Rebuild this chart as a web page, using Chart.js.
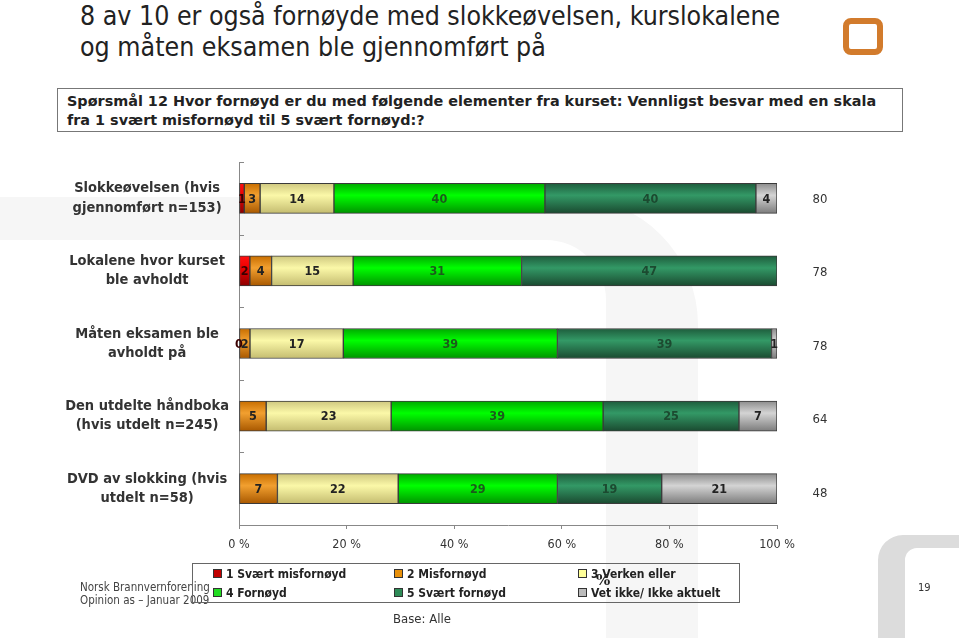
<!DOCTYPE html>
<html>
<head>
<meta charset="utf-8">
<script src="https://cdn.jsdelivr.net/npm/chart.js@4.4.1/dist/chart.umd.min.js"></script>
<style>
body { margin: 0; background: #fff; }
#page { position: relative; width: 959px; height: 638px; overflow: hidden;
        font-family: "DejaVu Sans Condensed", "DejaVu Sans", sans-serif; color: #333; }
#bg, #chart { position: absolute; left: 0; top: 0; }
.title { position: absolute; left: 80px; top: 0px; font-size: 26.5px; line-height: 31px; color: #222; white-space: nowrap; }
.logo { position: absolute; left: 843px; top: 18px; width: 40px; height: 37px; box-sizing: border-box;
        border: 6px solid #d27b2c; border-radius: 8px; }
.question { position: absolute; left: 57px; top: 88px; width: 846px; height: 44px; box-sizing: border-box;
            border: 1px solid #777; padding: 3px 0 0 9px; font-family: "DejaVu Sans", sans-serif;
            font-weight: bold; font-size: 14.4px; line-height: 19px; color: #222; white-space: nowrap; }
.legend { position: absolute; left: 192px; top: 563px; width: 548px; height: 40px; box-sizing: border-box;
          border: 1.5px solid #666; }
.legend .item { position: absolute; font-weight: bold; font-size: 12px; line-height: 14px; color: #222; white-space: nowrap; }
.legend .box { display: inline-block; width: 7px; height: 7px; border: 1px solid #333; margin-right: 4px; vertical-align: 0px; }
.foot { position: absolute; left: 80px; top: 581px; font-size: 11.5px; line-height: 13px; color: #444; }
.base { position: absolute; left: 393px; top: 611px; font-size: 13px; color: #333; }
.pnum { position: absolute; left: 918px; top: 581px; font-size: 11px; color: #333; }
.pct { position: absolute; left: 596px; top: 571px; font-size: 15px; font-weight: bold; font-family: "DejaVu Serif", serif; color: #222; }
</style>
</head>
<body>
<div id="page">
  <svg id="bg" width="959" height="638">
    <path d="M0,197 H570 A128,128 0 0 1 698,325 V638 H606 V300 A60,60 0 0 0 546,240 H0 Z" fill="#f6f6f6"/>
    <path d="M959,535 H903 A25,25 0 0 0 878,560 V638 H905 V560 A12,12 0 0 1 917,548 H959 Z" fill="#dcdcdc"/>
  </svg>
  <div class="title">8 av 10 er også fornøyde med slokkeøvelsen, kurslokalene<br>og måten eksamen ble gjennomført på</div>
  <div class="logo"></div>
  <div class="question">Spørsmål 12 Hvor fornøyd er du med følgende elementer fra kurset: Vennligst besvar med en skala<br>fra 1 svært misfornøyd til 5 svært fornøyd:?</div>
  <canvas id="chart" width="959" height="638"></canvas>
  <div class="foot">Norsk Brannvernforening<br>Opinion as – Januar 2009</div>
  <div class="legend" id="legend"></div>
  <div class="pct">%</div>
  <div class="base">Base: Alle</div>
  <div class="pnum">19</div>
</div>
<script>
const categories = [
    ['Slokkeøvelsen (hvis', 'gjennomført n=153)'],
    ['Lokalene hvor kurset', 'ble avholdt'],
    ['Måten eksamen ble', 'avholdt på'],
    ['Den utdelte håndboka', '(hvis utdelt n=245)'],
    ['DVD av slokking (hvis', 'utdelt n=58)']
];
const seriesNames = ['1 Svært misfornøyd', '2 Misfornøyd', '3 Verken eller', '4 Fornøyd', '5 Svært fornøyd', 'Vet ikke/ Ikke aktuelt'];
const svaertMisfornoyd = [1, 2, 0, null, null];
const misfornoyd = [3, 4, 2, 5, 7];
const verkenEller = [14, 15, 17, 23, 22];
const fornoyd = [40, 31, 39, 39, 29];
const svaertFornoyd = [40, 47, 39, 25, 19];
const vetIkke = [4, null, 1, 7, 21];
const topTwo = [80, 78, 78, 64, 48];
const xTicks = [0, 20, 40, 60, 80, 100];

const seriesValues = [svaertMisfornoyd, misfornoyd, verkenEller, fornoyd, svaertFornoyd, vetIkke];
const legendColors = ['#c00000', '#e8900a', '#ffff99', '#22dd22', '#2e8b57', '#bbbbbb'];
const gradStops = [
    ['#ff1010', '#ee0000', '#8b0000'],
    ['#c86e00', '#f2a030', '#a85800'],
    ['#cfc880', '#fbf8a8', '#c4bc70'],
    ['#00a800', '#00ff00', '#009400'],
    ['#1e5c3c', '#339966', '#1a4a30'],
    ['#8c8c8c', '#d4d4d4', '#7c7c7c']
];
const labelColors = ['#3a0000', '#222', '#222', '#1b5a1b', '#1c4a30', '#222'];
const FONT = '"DejaVu Sans Condensed", "DejaVu Sans", sans-serif';

// the bars are stacked to 100 %, so each row is scaled by its own total
const rowTotals = categories.map((c, j) => seriesValues.reduce((s, arr) => s + (arr[j] || 0), 0));

// legend
const legend = document.getElementById('legend');
seriesNames.forEach((name, i) => {
    const item = document.createElement('div');
    item.className = 'item';
    item.style.left = [20, 201, 385][i % 3] + 'px';
    item.style.top = (i < 3 ? 3 : 22) + 'px';
    item.innerHTML = '<span class="box" style="background:' + legendColors[i] + '"></span>' + name;
    legend.appendChild(item);
});

const barLabels = {
    id: 'barLabels',
    afterDatasetsDraw(chart) {
        const ctx = chart.ctx;
        ctx.save();
        ctx.font = 'bold 12.5px ' + FONT;
        ctx.textAlign = 'center';
        ctx.textBaseline = 'middle';
        chart.data.datasets.forEach((ds, i) => {
            chart.getDatasetMeta(i).data.forEach((bar, j) => {
                const v = seriesValues[i][j];
                if (v === null) return;
                ctx.fillStyle = labelColors[i];
                ctx.fillText(String(v), (bar.x + bar.base) / 2, bar.y + 1);
            });
        });
        // top-2 totals on the right
        ctx.font = '13px ' + FONT;
        ctx.fillStyle = '#333';
        const y = chart.scales.y;
        topTwo.forEach((t, j) => {
            ctx.fillText(String(t), chart.chartArea.right + 43, y.getPixelForValue(j) + 1 + j);
        });
        // small inward ticks on the category axis
        ctx.strokeStyle = '#888';
        ctx.lineWidth = 1;
        const half = (y.getPixelForValue(1) - y.getPixelForValue(0)) / 2;
        for (let j = 0; j <= categories.length; j++) {
            const py = Math.round(y.getPixelForValue(j) - half) + 0.5;
            ctx.beginPath();
            ctx.moveTo(chart.chartArea.left, py);
            ctx.lineTo(chart.chartArea.left + 5, py);
            ctx.stroke();
        }
        ctx.restore();
    }
};

function barGradient(context, i) {
    const chart = context.chart;
    const y = chart.scales.y;
    if (!chart.chartArea || !y) return legendColors[i];
    const cy = y.getPixelForValue(context.dataIndex);
    const g = chart.ctx.createLinearGradient(0, cy - 15, 0, cy + 15);
    g.addColorStop(0, gradStops[i][0]);
    g.addColorStop(0.4, gradStops[i][1]);
    g.addColorStop(1, gradStops[i][2]);
    return g;
}

new Chart(document.getElementById('chart'), {
    type: 'bar',
    data: {
        labels: categories,
        datasets: seriesValues.map((vals, i) => ({
            label: seriesNames[i],
            data: vals.map((v, j) => v === null ? null : v / rowTotals[j] * 100),
            backgroundColor: ctx => barGradient(ctx, i),
            borderColor: '#3a3a3a',
            borderWidth: 1,
            borderSkipped: false,
            barThickness: 30
        }))
    },
    options: {
        indexAxis: 'y',
        responsive: false,
        animation: false,
        devicePixelRatio: 1,
        layout: { padding: { top: 162, right: 182, bottom: 73, left: 0 } },
        plugins: { legend: { display: false }, tooltip: { enabled: false } },
        scales: {
            x: {
                stacked: true,
                min: 0,
                max: 100,
                afterBuildTicks: s => { s.ticks = xTicks.map(v => ({ value: v })); },
                afterFit: s => { s.height = 40; },
                ticks: { callback: v => v + ' %', color: '#333', font: { family: FONT, size: 12.5 }, padding: 8 },
                grid: { drawOnChartArea: false, color: '#888', tickLength: 4 },
                border: { color: '#888' }
            },
            y: {
                stacked: true,
                afterFit: s => { s.width = 239; },
                ticks: { crossAlign: 'center', color: '#333', padding: 2,
                         font: { family: FONT, size: 14.5, weight: 'bold', lineHeight: 1.32 } },
                grid: { display: false },
                border: { color: '#888' }
            }
        }
    },
    plugins: [barLabels]
});
</script>
</body>
</html>
